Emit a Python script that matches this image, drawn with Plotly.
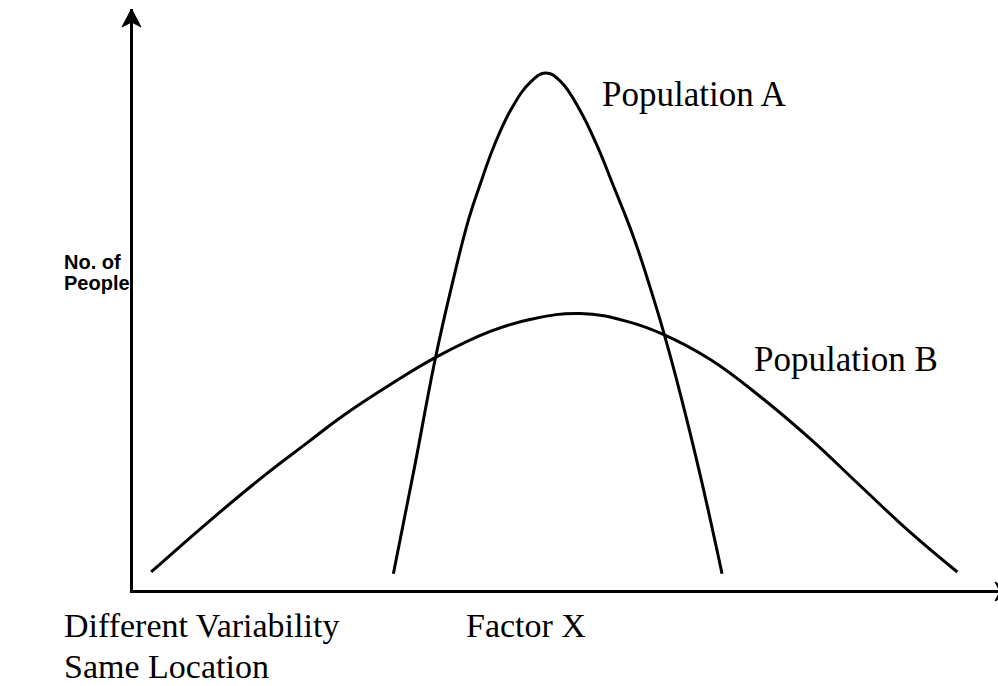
import plotly.graph_objects as go

# Population A: narrow, tall distribution (Factor X on a 0-100 scale, count on a 0-100 scale)
pop_a_x = [30.1, 32.5, 35.0, 37.0, 38.8, 40.2, 41.7, 43.7, 46.0, 47.7, 49.4, 51.7,
           53.7, 55.5, 57.9, 59.8, 61.3, 63.3, 65.6, 68.1]
pop_a_y = [2.8, 20.8, 40.2, 53.3, 63.8, 70.1, 76.3, 82.7, 87.5, 89.0, 87.6, 82.5,
           76.3, 69.7, 60.6, 52.0, 44.6, 33.6, 19.6, 2.8]

# Population B: wide, flat distribution centred at the same location
pop_b_x = [2.1, 8.7, 15.1, 20.2, 24.0, 29.8, 35.2, 41.3, 46.0, 51.7, 57.2, 61.3,
           66.7, 72.5, 78.3, 84.1, 89.8, 95.3]
pop_b_y = [3.1, 11.7, 19.6, 25.4, 29.7, 35.4, 40.2, 44.5, 46.6, 47.6, 46.2, 44.0,
           39.7, 33.3, 26.0, 17.9, 10.0, 3.1]

series_names = ["Population A", "Population B"]
y_title_lines = ["No. of", "People"]
x_title = "Factor X"
caption_lines = ["Different Variability", "Same Location"]

SERIF = "Liberation Serif, Times New Roman, serif"
SANS = "Liberation Sans, Arial, sans-serif"

W, H = 998, 686
L, R, T, B = 133, 0, 9, 96
PW, PH = W - L - R, H - T - B


def px(x):
    """page pixel column -> paper x"""
    return (x - L) / PW


def py(y):
    """page pixel row -> paper y"""
    return (H - B - y) / PH


fig = go.Figure()
for xs, ys, name in [(pop_a_x, pop_a_y, series_names[0]), (pop_b_x, pop_b_y, series_names[1])]:
    fig.add_trace(go.Scatter(
        x=xs, y=ys, mode="lines", name=name,
        line=dict(color="black", width=3, shape="spline", smoothing=1.2),
        hoverinfo="skip",
    ))

annotations = []
# curve labels
annotations.append(dict(x=54.0, y=85.2, xref="x", yref="y", text=series_names[0],
                        showarrow=False, xanchor="left", yanchor="middle",
                        font=dict(family=SERIF, size=35, color="black")))
annotations.append(dict(x=71.6, y=39.7, xref="x", yref="y", text=series_names[1],
                        showarrow=False, xanchor="left", yanchor="middle",
                        font=dict(family=SERIF, size=35, color="black")))
# y-axis title
for i, line in enumerate(y_title_lines):
    annotations.append(dict(x=px(63), y=py(262 + 21 * i), xref="paper", yref="paper",
                            text=line, showarrow=False, xanchor="left", yanchor="middle",
                            font=dict(family=SANS, size=20, color="black", weight="bold"),
                            borderpad=0))
# x-axis title and caption
annotations.append(dict(x=px(465), y=py(625), xref="paper", yref="paper",
                        text=x_title, showarrow=False, xanchor="left", yanchor="middle",
                        font=dict(family=SERIF, size=34, color="black"), borderpad=0))
for i, line in enumerate(caption_lines):
    annotations.append(dict(x=px(63), y=py(625 + 41 * i), xref="paper", yref="paper",
                            text=line, showarrow=False, xanchor="left", yanchor="middle",
                            font=dict(family=SERIF, size=34, color="black"), borderpad=0))


def arrow_path(points):
    return "M " + " L ".join(f"{px(a):.5f},{py(b):.5f}" for a, b in points) + " Z"


# barbed arrowheads at the ends of both axes
shapes = [
    dict(type="path", xref="paper", yref="paper",
         path=arrow_path([(131.5, 9), (141, 27), (131.5, 22), (122, 27)]),
         fillcolor="black", line=dict(color="black", width=1)),
    dict(type="path", xref="paper", yref="paper",
         path=arrow_path([(1013, 591.5), (995, 582), (1000, 591.5), (995, 601)]),
         fillcolor="black", line=dict(color="black", width=1)),
]

fig.update_layout(
    width=W, height=H,
    margin=dict(l=L, r=R, t=T, b=B),
    paper_bgcolor="white", plot_bgcolor="white",
    showlegend=False,
    annotations=annotations,
    shapes=shapes,
    xaxis=dict(range=[0, 100], showgrid=False, zeroline=False, showticklabels=False, ticks="",
               showline=True, linewidth=3, linecolor="black", fixedrange=True),
    yaxis=dict(range=[0, 100], showgrid=False, zeroline=False, showticklabels=False, ticks="",
               showline=True, linewidth=3, linecolor="black", fixedrange=True),
)

fig.write_html("out.html", config={"displayModeBar": False})
